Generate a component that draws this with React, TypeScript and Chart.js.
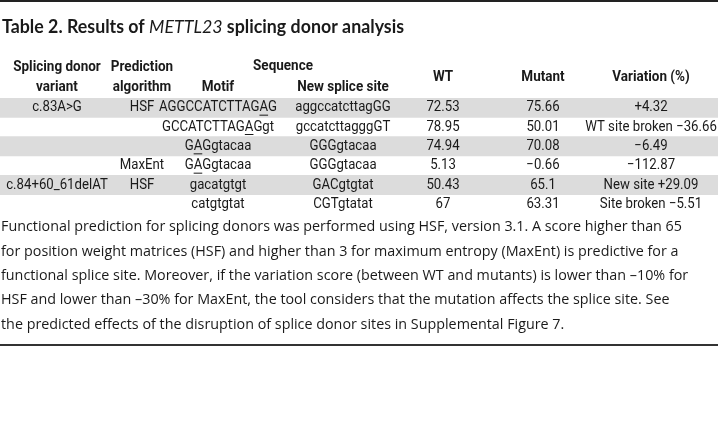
import React, { useEffect, useRef } from "react";
import { Chart, registerables } from "chart.js";

Chart.register(...registerables);

// ---------- data ----------
const titleParts = ["Table 2. Results of ", "METTL23", " splicing donor analysis"];
const headerVariant = ["Splicing donor", "variant"];
const headerAlgorithm = ["Prediction", "algorithm"];
const headerSequence = "Sequence";
const headerMotif = "Motif";
const headerNewSite = "New splice site";
const headerWT = "WT";
const headerMutant = "Mutant";
const headerVariation = "Variation (%)";

const rowIds = ["r1", "r2", "r3", "r4", "r5", "r6"];
const variants = ["c.83A>G", "", "", "", "c.84+60_61delAT", ""];
const algorithms = ["HSF", "", "", "MaxEnt", "HSF", ""];
const motifs = ["AGGCCATCTTAGAG", "GCCATCTTAGAGgt", "GAGgtacaa", "GAGgtacaa", "gacatgtgt", "catgtgtat"];
const motifUnderline = [12, 10, 1, 1, -1, -1];
const newSites = ["aggccatcttagGG", "gccatcttagggGT", "GGGgtacaa", "GGGgtacaa", "GACgtgtat", "CGTgtatat"];
const wtScores = [72.53, 78.95, 74.94, 5.13, 50.43, 67];
const mutantScores = [75.66, 50.01, 70.08, -0.66, 65.1, 63.31];
const variations = ["+4.32", "WT site broken \u221236.66", "\u22126.49", "\u2212112.87", "New site +29.09", "Site broken \u22125.51"];

const footnoteLines = [
  "Functional prediction for splicing donors was performed using HSF, version 3.1. A score higher than 65",
  "for position weight matrices (HSF) and higher than 3 for maximum entropy (MaxEnt) is predictive for a",
  "functional splice site. Moreover, if the variation score (between WT and mutants) is lower than \u201310% for",
  "HSF and lower than \u201330% for MaxEnt, the tool considers that the mutation affects the splice site. See",
  "the predicted effects of the disruption of splice donor sites in Supplemental Figure 7.",
];

// ---------- layout / style ----------
const W = 718;
const H = 436;
const COL = { variant: 57, algorithm: 142, motif: 218, newSite: 343, wt: 443, mutant: 543, variation: 651, sequence: 283 };
const TABLE_TOP = 98;
const TABLE_BOTTOM = 214;
const COND = 'Roboto, "Noto Sans", sans-serif';
const SANS = 'Lato, "Open Sans", sans-serif';
const NOTE = '"Open Sans", Lato, sans-serif';
const TEXT = "#1a1a1a";
const BAND = "#dcdcdc";
const TITLE_WIDTH = 402;
const NOTE_FIRST_WIDTH = 681;

function fmt(v: number): string {
  return String(v).replace("-", "\u2212");
}

function drawText(ctx: CanvasRenderingContext2D, text: string, x: number, y: number, font: string, align: CanvasTextAlign, sx = 1) {
  ctx.save();
  ctx.font = font;
  ctx.fillStyle = TEXT;
  ctx.textAlign = align;
  ctx.textBaseline = "middle";
  ctx.translate(x, y);
  ctx.scale(sx, 1);
  ctx.fillText(text, 0, 0);
  ctx.restore();
}

const CELL_FONT = `15px ${COND}`;
const HEAD_FONT = `bold 15.5px ${COND}`;
const CELL_SX = 0.88;
const HEAD_SX = 0.87;

const tablePlugin = {
  id: "tablePlugin",
  afterDatasetsDraw(chart: any) {
    const ctx: CanvasRenderingContext2D = chart.ctx;
    const yScale = chart.scales.y;

    // top rule
    ctx.save();
    ctx.fillStyle = "#222";
    ctx.fillRect(0, 0, W, 2);
    ctx.restore();

    // title (fit to reference width)
    ctx.save();
    ctx.fillStyle = TEXT;
    ctx.textBaseline = "alphabetic";
    ctx.textAlign = "left";
    const tfonts = [`bold 18px ${SANS}`, `italic 18px ${SANS}`, `bold 18px ${SANS}`];
    let tw = 0;
    titleParts.forEach((p, i) => {
      ctx.font = tfonts[i];
      tw += ctx.measureText(p).width;
    });
    const tsx = TITLE_WIDTH / tw;
    ctx.translate(2, 33);
    ctx.scale(tsx, 1);
    let x = 0;
    titleParts.forEach((p, i) => {
      ctx.font = tfonts[i];
      ctx.fillText(p, x, 0);
      x += ctx.measureText(p).width;
    });
    ctx.restore();

    // headers
    drawText(ctx, headerVariant[0], COL.variant, 67, HEAD_FONT, "center", HEAD_SX);
    drawText(ctx, headerVariant[1], COL.variant, 87, HEAD_FONT, "center", HEAD_SX);
    drawText(ctx, headerAlgorithm[0], COL.algorithm, 67, HEAD_FONT, "center", HEAD_SX);
    drawText(ctx, headerAlgorithm[1], COL.algorithm, 87, HEAD_FONT, "center", HEAD_SX);
    drawText(ctx, headerSequence, COL.sequence, 66, HEAD_FONT, "center", HEAD_SX);
    drawText(ctx, headerMotif, COL.motif, 87, HEAD_FONT, "center", HEAD_SX);
    drawText(ctx, headerNewSite, COL.newSite, 87, HEAD_FONT, "center", HEAD_SX);
    drawText(ctx, headerWT, COL.wt, 77, HEAD_FONT, "center", HEAD_SX);
    drawText(ctx, headerMutant, COL.mutant, 77, HEAD_FONT, "center", HEAD_SX);
    drawText(ctx, headerVariation, COL.variation, 77, HEAD_FONT, "center", HEAD_SX);

    // cells
    rowIds.forEach((_, i) => {
      const y = yScale.getPixelForValue(i);
      if (variants[i]) drawText(ctx, variants[i], COL.variant, y, CELL_FONT, "center", CELL_SX);
      if (algorithms[i]) drawText(ctx, algorithms[i], COL.algorithm, y, CELL_FONT, "center", CELL_SX);
      drawText(ctx, motifs[i], COL.motif, y, CELL_FONT, "center", CELL_SX);
      const u = motifUnderline[i];
      if (u >= 0) {
        ctx.save();
        ctx.font = CELL_FONT;
        const total = ctx.measureText(motifs[i]).width * CELL_SX;
        const pre = ctx.measureText(motifs[i].slice(0, u)).width * CELL_SX;
        const cw = ctx.measureText(motifs[i][u]).width * CELL_SX;
        const sx0 = COL.motif - total / 2 + pre;
        ctx.fillStyle = TEXT;
        ctx.fillRect(sx0, y + 7, cw, 1);
        ctx.restore();
      }
      drawText(ctx, newSites[i], COL.newSite, y, CELL_FONT, "center", CELL_SX);
      drawText(ctx, fmt(wtScores[i]), COL.wt, y, CELL_FONT, "center", CELL_SX);
      drawText(ctx, fmt(mutantScores[i]), COL.mutant, y, CELL_FONT, "center", CELL_SX);
      drawText(ctx, variations[i], COL.variation, y, CELL_FONT, "center", CELL_SX);
    });

    // footnote (fit first line to reference width, same scale for all lines)
    const noteFont = `15px ${NOTE}`;
    ctx.save();
    ctx.font = noteFont;
    const nsx = NOTE_FIRST_WIDTH / ctx.measureText(footnoteLines[0]).width;
    ctx.restore();
    footnoteLines.forEach((line, i) => {
      drawText(ctx, line, 1, 227 + i * 24.4, noteFont, "left", nsx);
    });

    // bottom rule
    ctx.save();
    ctx.fillStyle = "#333";
    ctx.fillRect(0, 344, W, 2);
    ctx.restore();
  },
};

export default function App() {
  const ref = useRef<HTMLCanvasElement | null>(null);
  useEffect(() => {
    document.body.style.margin = "0";
    const canvas = ref.current!;
    const chart = new Chart(canvas, {
      type: "bar",
      data: {
        labels: rowIds,
        datasets: [
          {
            data: rowIds.map(() => 1),
            backgroundColor: rowIds.map((_, i) => (i % 2 === 0 ? BAND : "rgba(0,0,0,0)")),
            borderWidth: 0,
            barPercentage: 1,
            categoryPercentage: 1,
          },
        ],
      },
      options: {
        indexAxis: "y",
        responsive: false,
        animation: false,
        devicePixelRatio: 1,
        layout: { padding: { top: TABLE_TOP, bottom: H - TABLE_BOTTOM, left: 0, right: 0 } },
        plugins: { legend: { display: false }, tooltip: { enabled: false }, title: { display: false } },
        scales: {
          x: { type: "linear", min: 0, max: 1, display: false },
          y: { type: "category", display: false, offset: true },
        },
      },
      plugins: [tablePlugin],
    });
    return () => chart.destroy();
  }, []);
  return (
    <div style={{ width: W, height: H, background: "#fff" }}>
      <canvas ref={ref} width={W} height={H} style={{ display: "block" }} />
    </div>
  );
}
